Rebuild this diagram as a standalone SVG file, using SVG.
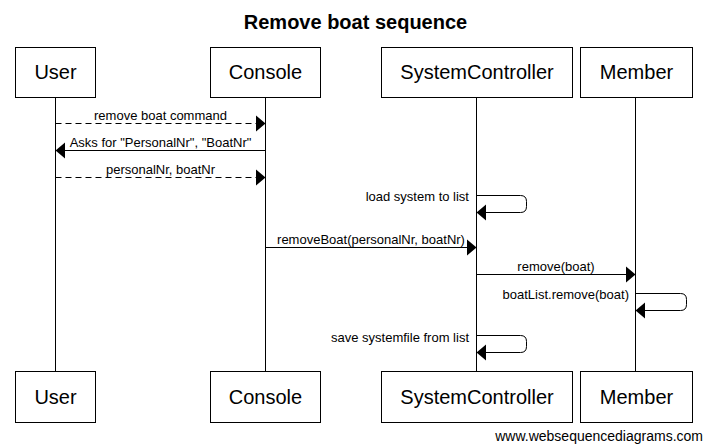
<svg xmlns="http://www.w3.org/2000/svg" width="707" height="445" viewBox="0 0 707 445">
<defs>
<style>
text{font-family:"Liberation Sans",Arial,sans-serif;fill:#000}
.box{fill:#fff;stroke:#000;stroke-width:1}
.pt{font-size:20px;text-anchor:middle}
.life{stroke:#000;stroke-width:1}
.msg{stroke:#000;stroke-width:1;fill:none}
.dash{stroke-dasharray:6,4}
.lbl{font-size:13px;text-anchor:middle}
.slbl{font-size:13px;text-anchor:end}
.ah{fill:#000}
</style>
</defs>
<rect width="707" height="445" fill="#fff"/>
<text x="355.5" y="29" font-size="20" font-weight="bold" text-anchor="middle">Remove boat sequence</text>

<g id="lifelines">
<line class="life" x1="55.5" y1="97" x2="55.5" y2="371"/>
<line class="life" x1="265.5" y1="97" x2="265.5" y2="371"/>
<line class="life" x1="476.5" y1="97" x2="476.5" y2="371"/>
<line class="life" x1="635.5" y1="97" x2="635.5" y2="371"/>
</g>

<g id="User">
<rect class="box" x="15.5" y="47.5" width="80" height="50"/>
<text class="pt" x="55.5" y="79">User</text>
<rect class="box" x="15.5" y="371.5" width="80" height="51"/>
<text class="pt" x="55.5" y="404">User</text>
</g>
<g id="Console">
<rect class="box" x="210.5" y="47.5" width="110" height="50"/>
<text class="pt" x="265.5" y="79">Console</text>
<rect class="box" x="210.5" y="371.5" width="110" height="51"/>
<text class="pt" x="265.5" y="404">Console</text>
</g>
<g id="SystemController">
<rect class="box" x="381.5" y="47.5" width="191" height="50"/>
<text class="pt" x="477" y="79">SystemController</text>
<rect class="box" x="381.5" y="371.5" width="191" height="51"/>
<text class="pt" x="477" y="404">SystemController</text>
</g>
<g id="Member">
<rect class="box" x="580.5" y="47.5" width="112" height="50"/>
<text class="pt" x="636.5" y="79">Member</text>
<rect class="box" x="580.5" y="371.5" width="112" height="51"/>
<text class="pt" x="636.5" y="404">Member</text>
</g>

<g id="connectors">
<line class="msg dash" x1="55.5" y1="123.5" x2="256" y2="123.5"/>
<polygon class="ah" points="265.5,123.5 256,115.5 256,131.5"/>
<text class="lbl" x="160.5" y="120">remove boat command</text>

<line class="msg" x1="265.5" y1="150.5" x2="65" y2="150.5"/>
<polygon class="ah" points="55.5,150.5 65,142.5 65,158.5"/>
<text class="lbl" x="160.5" y="147">Asks for "PersonalNr", "BoatNr"</text>

<line class="msg dash" x1="55.5" y1="177.5" x2="256" y2="177.5"/>
<polygon class="ah" points="265.5,177.5 256,169.5 256,185.5"/>
<text class="lbl" x="160.5" y="174">personalNr, boatNr</text>

<path class="msg" d="M476.5,195.5 H520.5 Q526.5,195.5 526.5,201.5 V206.5 Q526.5,212.5 520.5,212.5 H486"/>
<polygon class="ah" points="476.5,212.5 486,204.5 486,220.5"/>
<text class="slbl" x="469" y="201">load system to list</text>

<line class="msg" x1="265.5" y1="247.5" x2="467" y2="247.5"/>
<polygon class="ah" points="476.5,247.5 467,239.5 467,255.5"/>
<text class="lbl" x="371" y="244">removeBoat(personalNr, boatNr)</text>

<line class="msg" x1="476.5" y1="274.5" x2="626" y2="274.5"/>
<polygon class="ah" points="635.5,274.5 626,266.5 626,282.5"/>
<text class="lbl" x="556" y="271">remove(boat)</text>

<path class="msg" d="M635.5,293.5 H680.5 Q686.5,293.5 686.5,299.5 V304.5 Q686.5,310.5 680.5,310.5 H645"/>
<polygon class="ah" points="635.5,310.5 645,302.5 645,318.5"/>
<text class="slbl" x="629" y="299">boatList.remove(boat)</text>

<path class="msg" d="M476.5,335.5 H520.5 Q526.5,335.5 526.5,341.5 V346.5 Q526.5,352.5 520.5,352.5 H486"/>
<polygon class="ah" points="476.5,352.5 486,344.5 486,360.5"/>
<text class="slbl" x="469" y="342">save systemfile from list</text>
</g>

<text x="703" y="441" font-size="14" text-anchor="end">www.websequencediagrams.com</text>
</svg>
